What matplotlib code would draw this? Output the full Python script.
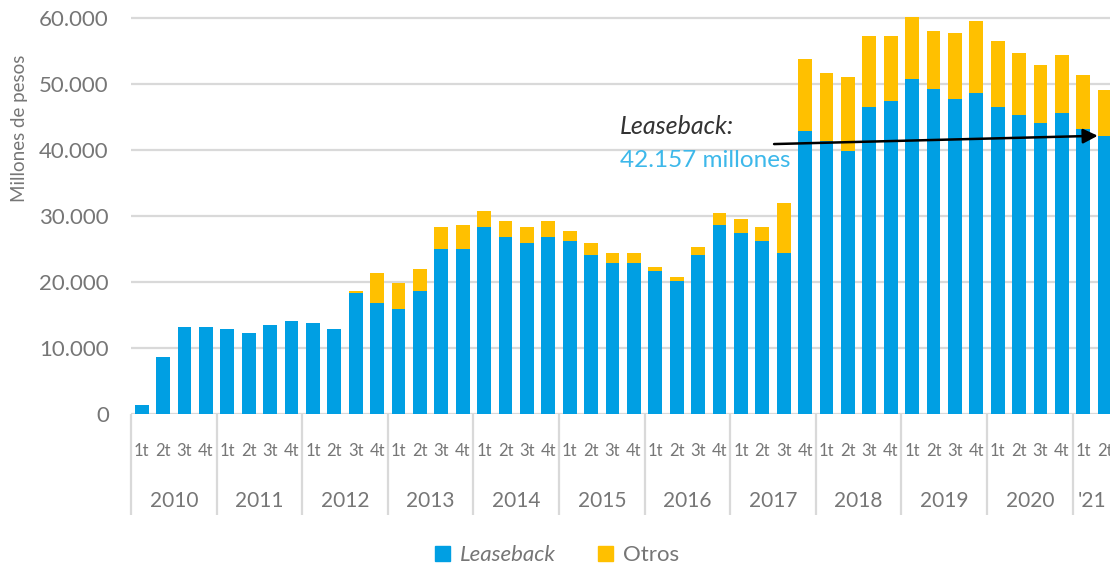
"""
Stacked quarterly bars: Leaseback vs Otros (millones de pesos)
"""

import matplotlib.pyplot as plt
from matplotlib.patches import Patch
from matplotlib.ticker import FuncFormatter
import numpy as np

years = ["2010", "2011", "2012", "2013", "2014", "2015", "2016",
         "2017", "2018", "2019", "2020", "'21"]
quarters = ["1t", "2t", "3t", "4t"] * 11 + ["1t", "2t"]

leaseback = [1400, 8600, 13200, 13200,
             12900, 12300, 13500, 14100,
             13800, 12900, 18300, 16800,
             15900, 18600, 25000, 25000,
             28300, 26800, 25900, 26800,
             26200, 24100, 22900, 22900,
             21700, 20200, 24100, 28600,
             27400, 26200, 24400, 42900,
             41400, 39800, 46500, 47400,
             50800, 49200, 47700, 48600,
             46500, 45300, 44100, 45600,
             43200, 42157]
otros = [0, 0, 0, 0,
         0, 0, 0, 0,
         0, 0, 300, 4600,
         3900, 3400, 3300, 3600,
         2500, 2400, 2400, 2400,
         1500, 1800, 1500, 1500,
         600, 600, 1200, 1900,
         2100, 2100, 7600, 10900,
         10300, 11300, 10800, 9900,
         9300, 8800, 10000, 10900,
         10000, 9400, 8800, 8800,
         8200, 7000]

BLUE = "#009fe3"
YELLOW = "#ffc000"
GREY = "#767676"
LINE = "#d9d9d9"

plt.rcParams["font.family"] = ["Lato", "DejaVu Sans"]

fig = plt.figure(figsize=(11.1, 5.66), dpi=100)
ax = fig.add_axes([131 / 1110, 152 / 566, 984.4 / 1110, 402.6 / 566])

x = np.arange(len(leaseback))
ax.bar(x, leaseback, width=0.65, color=BLUE, zorder=3)
ax.bar(x, otros, width=0.65, bottom=leaseback, color=YELLOW, zorder=3)

ax.set_xlim(-0.5, len(x) - 0.5)
ax.set_ylim(0, 61000)

# y axis
ax.set_yticks(np.arange(0, 60001, 10000))
ax.yaxis.set_major_formatter(FuncFormatter(lambda v, p: f"{int(v):,}".replace(",", ".")))
ax.yaxis.grid(True, color=LINE, lw=1.6, zorder=0)
ax.tick_params(axis="y", length=0, pad=16, labelsize=16, labelcolor=GREY)
ax.set_ylabel("Millones de pesos", color=GREY, fontsize=13.5)
ax.yaxis.set_label_coords(-0.105, 0.71)
for s in ax.spines.values():
    s.set_visible(False)

# x axis: quarters and years
ax.set_xticks(x)
ax.set_xticklabels(quarters)
ax.tick_params(axis="x", length=0, pad=21, labelsize=12, labelcolor=GREY)
trans = ax.get_xaxis_transform()
seps = np.arange(-0.5, len(x), 4)
ax.vlines(seps, -0.252, 0, transform=trans, color=LINE, lw=1.6, clip_on=False)
for i, yr in enumerate(years):
    xc = i * 4 + 1.5
    if yr == "'21":
        xc = 44.4
    ax.text(xc, -0.215, yr, transform=trans, ha="center", va="center",
            fontsize=15, color=GREY)

# annotation
ax.text(22.35, 43500, "Leaseback:", fontsize=18, style="italic", color="#333333",
        va="center", ha="left")
ax.text(22.35, 38400, "42.157 millones", fontsize=17.5, color="#3db8ea",
        va="center", ha="left")
ax.annotate("", xy=(45 - 0.325, 42157), xytext=(29.55, 40900),
            arrowprops=dict(arrowstyle="-|>", color="black", lw=1.8,
                            mutation_scale=22, shrinkA=0, shrinkB=0), zorder=5)

# legend
handles = [Patch(color=BLUE, label="Leaseback"), Patch(color=YELLOW, label="Otros")]
leg = fig.legend(handles=handles, loc="center", bbox_to_anchor=(557 / 1110, 1 - 555 / 566),
                 ncol=2, frameon=False, fontsize=16, handlelength=0.68, handleheight=0.68,
                 handletextpad=0.45, columnspacing=1.9)
for t in leg.get_texts():
    t.set_color(GREY)
leg.get_texts()[0].set_style("italic")

fig.savefig("out.png", dpi=100)
